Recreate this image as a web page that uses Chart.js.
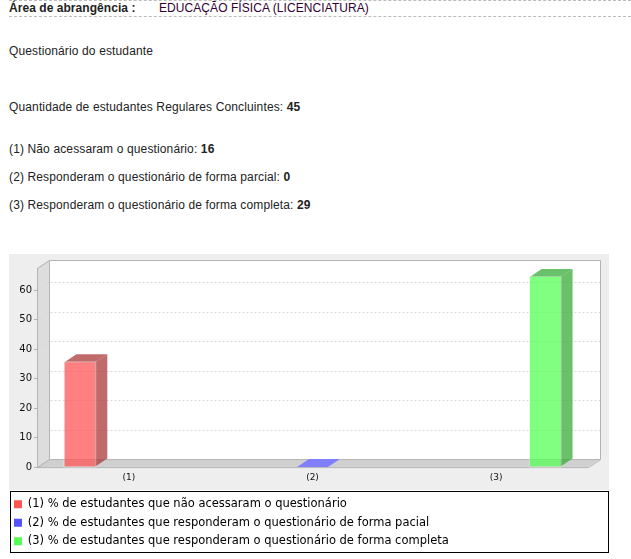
<!DOCTYPE html>
<html lang="pt">
<head>
<meta charset="utf-8">
<title>Questionário do estudante</title>
<script src="https://cdn.jsdelivr.net/npm/chart.js@4/dist/chart.umd.min.js"></script>
<style>
  html, body { margin: 0; padding: 0; background: #fff; }
  body { position: relative; width: 631px; height: 559px; overflow: hidden; font: 12px "Liberation Sans", Arial, sans-serif; color: #222; }
  .line { position: absolute; left: 9px; line-height: 14px; white-space: nowrap; letter-spacing: .13px; }
  .area { position: absolute; left: 9px; top: 0; right: 0; height: 15px; border-top: 1px dashed #bbb; border-bottom: 1px dashed #bbb; }
  #grafico { position: absolute; left: 7px; top: 254px; }
</style>
</head>
<body>
<div class="area"></div>
<div class="line" style="top:1px;letter-spacing:.05px"><b>Área de abrangência :</b></div>
<div class="line" style="top:1px;left:159px;color:#303;letter-spacing:.07px">EDUCAÇÃO FÍSICA (LICENCIATURA)</div>
<div class="line" style="top:44px">Questionário do estudante</div>
<div class="line" style="top:100px">Quantidade de estudantes Regulares Concluintes: <b>45</b></div>
<div class="line" style="top:142px">(1) Não acessaram o questionário: <b>16</b></div>
<div class="line" style="top:170px">(2) Responderam o questionário de forma parcial: <b>0</b></div>
<div class="line" style="top:198px">(3) Responderam o questionário de forma completa: <b>29</b></div>
<canvas id="grafico" width="602" height="303"></canvas>
<script>
const categorias = ["(1)", "(2)", "(3)"];
const legendas = [
    "(1) % de estudantes que não acessaram o questionário",
    "(2) % de estudantes que responderam o questionário de forma pacial",
    "(3) % de estudantes que responderam o questionário de forma completa"
];
const naoAcessaram = [35.56, null, null];
const parcial = [null, 0, null];
const completa = [null, null, 64.44];
const eixoMax = 67.5;

const DX = 12, DY = -8; // profundidade do efeito 3D

function poly(ctx, pts, fill) {
    ctx.beginPath();
    pts.forEach((p, i) => i ? ctx.lineTo(p[0], p[1]) : ctx.moveTo(p[0], p[1]));
    ctx.closePath();
    ctx.fillStyle = fill;
    ctx.fill();
}

// fundo, paredes e grade deslocada
const fundo3d = {
    id: "fundo3d",
    beforeDraw(chart) {
        const { ctx, chartArea: a, scales } = chart;
        const L = a.left, R = a.right, T = a.top, B = a.bottom;
        ctx.save();
        ctx.fillStyle = "#eeeeee";
        ctx.fillRect(2, 0, 600, 236);

        // caixa da legenda
        ctx.fillStyle = "#fff";
        ctx.fillRect(3, 237, 598, 61);
        ctx.strokeStyle = "#000";
        ctx.strokeRect(3.5, 237.5, 598, 61);

        poly(ctx, [[L + DX, T + DY], [R + DX, T + DY], [R + DX, B + DY], [L + DX, B + DY]], "#fff");
        poly(ctx, [[L, T], [L + DX, T + DY], [L + DX, B + DY], [L, B]], "#dddddd");
        poly(ctx, [[L, B], [L + DX, B + DY], [R + DX, B + DY], [R, B]], "#d0d0d0");

        ctx.lineWidth = 1;
        ctx.strokeStyle = "#d8d8d8";
        ctx.setLineDash([2, 2]);
        scales.y.ticks.forEach(t => {
            if (t.value === 0) return;
            const y = Math.round(scales.y.getPixelForValue(t.value)) + 0.5;
            ctx.beginPath();
            ctx.moveTo(L, y);
            ctx.lineTo(L + DX, y + DY);
            ctx.lineTo(R + DX, y + DY);
            ctx.stroke();
        });
        ctx.setLineDash([]);

        ctx.strokeStyle = "#b4b4b4";
        ctx.beginPath();
        ctx.moveTo(L + .5, B + .5);
        ctx.lineTo(L + .5, T + .5);
        ctx.lineTo(L + DX + .5, T + DY + .5);
        ctx.lineTo(R + DX + .5, T + DY + .5);
        ctx.lineTo(R + DX + .5, B + DY + .5);
        ctx.lineTo(R + .5, B + .5);
        ctx.lineTo(L + .5, B + .5);
        ctx.moveTo(L + .5, B + .5);
        ctx.lineTo(L + DX + .5, B + DY + .5);
        ctx.lineTo(R + DX + .5, B + DY + .5);
        ctx.moveTo(L + DX + .5, B + DY + .5);
        ctx.lineTo(L + DX + .5, T + DY + .5);
        ctx.stroke();
        ctx.restore();
    }
};

// topo e lateral de cada barra
const barras3d = {
    id: "barras3d",
    afterDatasetsDraw(chart) {
        const { ctx } = chart;
        const escuras = ["rgba(171,57,57,.75)", "rgba(57,57,171,.75)", "rgba(57,171,57,.75)"];
        const claras = ["#ff8080", "#8080ff", "#80ff80"];
        ctx.save();
        chart.data.datasets.forEach((ds, i) => {
            chart.getDatasetMeta(i).data.forEach((bar, j) => {
                if (ds.data[j] === null) return;
                const l = bar.x - bar.width / 2, r = bar.x + bar.width / 2;
                const t = bar.y, b = bar.base;
                if (b - t < 1) {
                    poly(ctx, [[l, t], [l + DX, t + DY], [r + DX, t + DY], [r, t]], claras[i]);
                    return;
                }
                poly(ctx, [[l, t], [l + DX, t + DY], [r + DX, t + DY], [r, t]], escuras[i]);
                poly(ctx, [[r, t], [r + DX, t + DY], [r + DX, b + DY], [r, b]], escuras[i]);
                ctx.strokeStyle = "rgba(255,255,255,.35)";
                ctx.lineWidth = 1;
                ctx.strokeRect(l - .5, t - .5, r - l + 1, b - t + 1);
            });
        });
        ctx.restore();
    }
};

const fonteEixo = { family: "'DejaVu Sans'", size: 10 };

new Chart(document.getElementById("grafico"), {
    type: "bar",
    data: {
        labels: categorias,
        datasets: [
            { label: legendas[0], data: naoAcessaram, backgroundColor: "rgba(255,85,85,.75)" },
            { label: legendas[1], data: parcial, backgroundColor: "rgba(85,85,255,.75)" },
            { label: legendas[2], data: completa, backgroundColor: "rgba(85,255,85,.75)" }
        ]
    },
    options: {
        responsive: false,
        animation: false,
        devicePixelRatio: 1,
        layout: { padding: { left: 0, right: 21, top: 14, bottom: 0 } },
        datasets: { bar: { categoryPercentage: 0.8, barPercentage: 0.63 } },
        plugins: {
            tooltip: { enabled: false },
            legend: {
                position: "bottom",
                align: "start",
                onClick: null,
                labels: {
                    color: "#111",
                    font: { family: "'DejaVu Sans'", size: 11.5 },
                    boxWidth: 8,
                    boxHeight: 8,
                    padding: 7,
                    generateLabels(chart) {
                        const solidas = ["#ff5555", "#5555ff", "#55ff55"];
                        return chart.data.datasets.map((ds, i) => ({
                            text: ds.label, fillStyle: solidas[i], strokeStyle: solidas[i], lineWidth: 0, datasetIndex: i
                        }));
                    }
                }
            }
        },
        scales: {
            x: {
                grid: { display: false, drawTicks: false },
                border: { display: false },
                ticks: { color: "#111", font: { family: "'DejaVu Sans'", size: 9 }, padding: 5, maxRotation: 0 },
                afterFit(s) { s.height = 24.4; }
            },
            y: {
                min: 0,
                max: eixoMax,
                grid: { drawOnChartArea: false, color: "#b4b4b4", tickLength: 3 },
                border: { color: "#b4b4b4" },
                ticks: { stepSize: 10, includeBounds: false, color: "#111", font: fonteEixo, padding: 2 },
                afterFit(s) { s.width = 30; }
            }
        }
    },
    plugins: [fundo3d, barras3d]
});
</script>
</body>
</html>
